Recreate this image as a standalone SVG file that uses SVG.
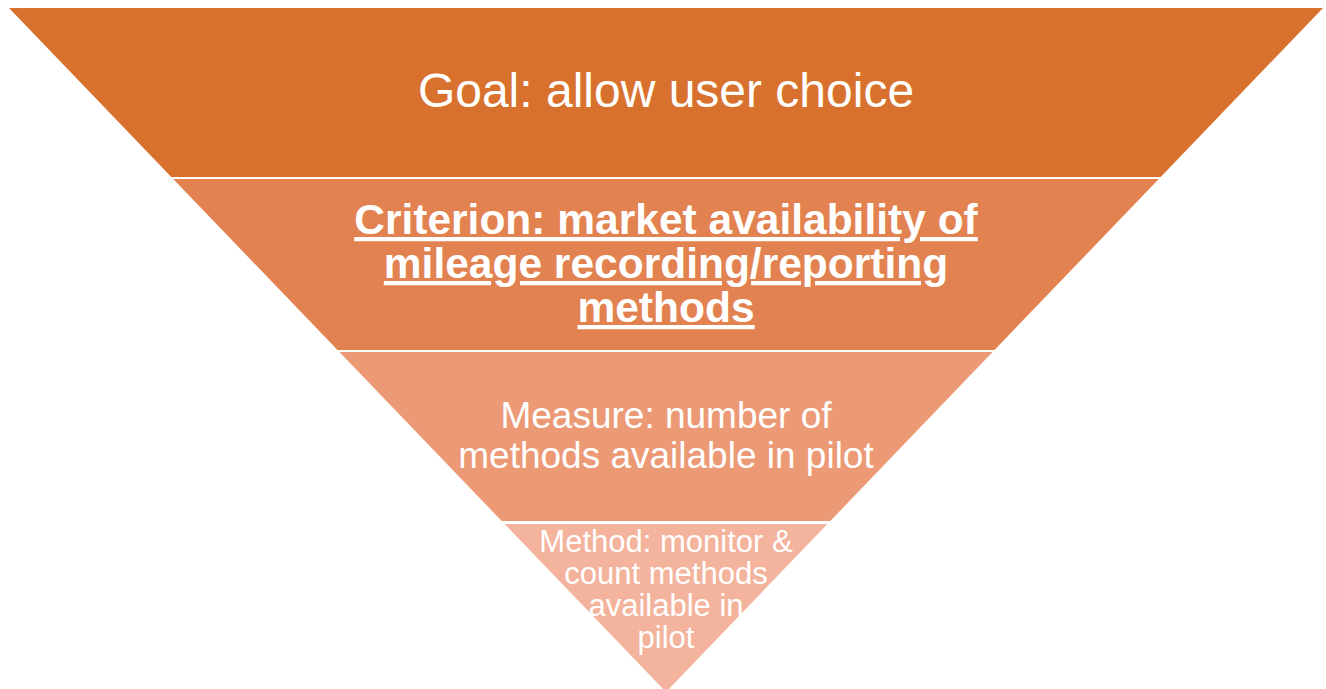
<svg xmlns="http://www.w3.org/2000/svg" width="1326" height="689" viewBox="0 0 1326 689">
<style>
.t{font-family:"Liberation Sans",Arial,sans-serif;fill:#FFFFFF;text-anchor:middle}
.goal{font-size:48px}
.crit{font-size:42.5px;font-weight:bold;text-decoration:underline}
.meas{font-size:37px}
.meth{font-size:31px}
</style>
<rect width="1326" height="689" fill="#FFFFFF"/>
<g id="goal">
<polygon points="9,8 1323,8 1160.7,177 171.3,177" fill="#D8712D"/>
<text class="t goal" x="666" y="107">Goal: allow user choice</text>
</g>
<g id="criterion">
<polygon points="173.2,179 1158.8,179 994.5,350 337.5,350" fill="#E28250"/>
<text class="t crit" x="666" y="234">Criterion: market availability of</text>
<text class="t crit" x="666" y="278">mileage recording/reporting</text>
<text class="t crit" x="666" y="322">methods</text>
</g>
<g id="measure">
<polygon points="339.4,352 992.6,352 830.3,521 501.7,521" fill="#EB9A75"/>
<text class="t meas" x="666" y="428">Measure: number of</text>
<text class="t meas" x="666" y="468">methods available in pilot</text>
</g>
<g id="method">
<polygon points="504.6,524 827.4,524 666,692" fill="#F3B39C"/>
<text class="t meth" x="666" y="552">Method: monitor &amp;</text>
<text class="t meth" x="666" y="584">count methods</text>
<text class="t meth" x="666" y="616">available in</text>
<text class="t meth" x="666" y="648">pilot</text>
</g>
<g id="connectors"/>
</svg>
